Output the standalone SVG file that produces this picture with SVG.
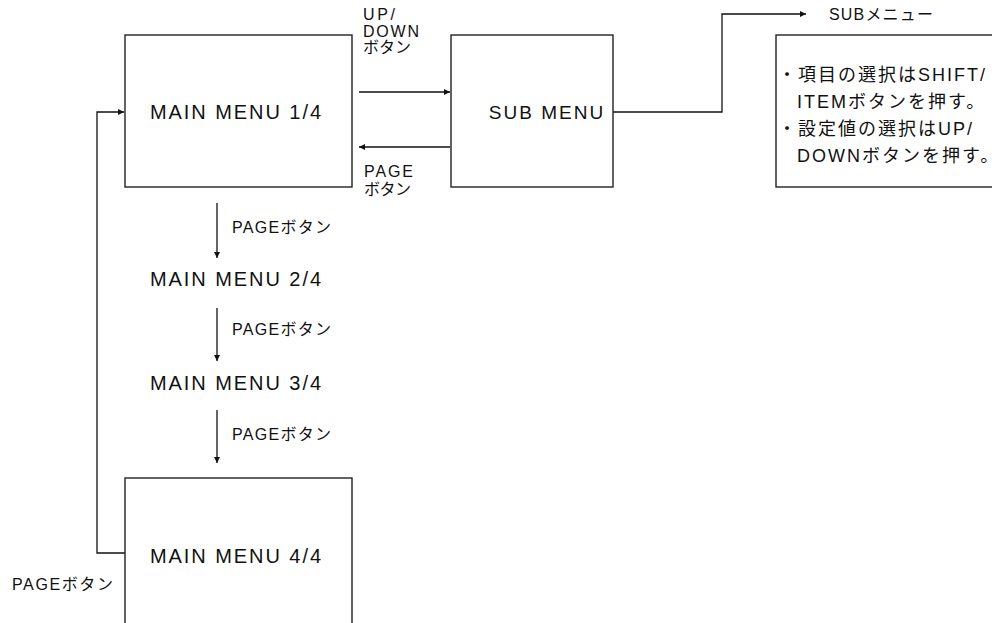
<svg xmlns="http://www.w3.org/2000/svg" width="992" height="623" viewBox="0 0 992 623">
<style>
.box{fill:#fff;stroke:#222;stroke-width:1.4}
.ln{fill:none;stroke:#111;stroke-width:1.3}
text{font-family:"Liberation Sans","Noto Sans CJK JP",sans-serif;fill:#111}
.big{font-size:20px;letter-spacing:2px}
.sm{font-size:16px;letter-spacing:2px}
.note{font-size:18px;letter-spacing:2px}
</style>
<defs>
<marker id="ah" viewBox="0 0 10 10" refX="10" refY="5" markerWidth="9" markerHeight="6" markerUnits="userSpaceOnUse" orient="auto">
<path d="M0,0 L10,5 L0,10 z" fill="#111"/>
</marker>
</defs>
<rect width="992" height="623" fill="#fff"/>
<g id="connectors">
<line class="ln" x1="359" y1="92" x2="450" y2="92" marker-end="url(#ah)"/>
<line class="ln" x1="450" y1="147" x2="359" y2="147" marker-end="url(#ah)"/>
<path class="ln" d="M613,112 H722 V14 H806" marker-end="url(#ah)"/>
<line class="ln" x1="217" y1="203" x2="217" y2="258" marker-end="url(#ah)"/>
<line class="ln" x1="217" y1="308" x2="217" y2="361" marker-end="url(#ah)"/>
<line class="ln" x1="217" y1="410" x2="217" y2="463" marker-end="url(#ah)"/>
<path class="ln" d="M125,553 H97 V112 H124" marker-end="url(#ah)"/>
<text class="sm" x="363" y="20" textLength="34">UP/</text>
<text class="sm" x="363" y="36.5" textLength="58">DOWN</text>
<text class="sm" x="363" y="53" textLength="50">ボタン</text>
<text class="sm" x="364" y="177" textLength="51">PAGE</text>
<text class="sm" x="364" y="195" textLength="49">ボタン</text>
<text class="sm" x="232" y="233" textLength="101">PAGEボタン</text>
<text class="sm" x="232" y="335" textLength="101">PAGEボタン</text>
<text class="sm" x="232" y="440" textLength="101">PAGEボタン</text>
<text class="sm" x="12" y="590" textLength="103">PAGEボタン</text>
<text class="sm" x="829" y="19.5" textLength="106">SUBメニュー</text>
</g>
<g id="main1">
<rect class="box" x="125" y="35" width="227" height="152"/>
<text class="big" x="150" y="119" textLength="173">MAIN MENU 1/4</text>
</g>
<g id="submenu">
<rect class="box" x="451" y="35" width="162" height="152"/>
<text class="big" x="547" y="119" text-anchor="middle" style="font-size:19px">SUB MENU</text>
</g>
<g id="main2">
<text class="big" x="150" y="286" textLength="173">MAIN MENU 2/4</text>
</g>
<g id="main3">
<text class="big" x="150" y="390" textLength="173">MAIN MENU 3/4</text>
</g>
<g id="main4">
<rect class="box" x="125" y="478" width="227" height="160"/>
<text class="big" x="150" y="563" textLength="173">MAIN MENU 4/4</text>
</g>
<g id="subnote">
<rect class="box" x="776" y="35" width="230" height="152"/>
<text class="note" x="778" y="80.5">・項目の選択はSHIFT/</text>
<text class="note" x="797" y="107.5">ITEMボタンを押す。</text>
<text class="note" x="778" y="134.5">・設定値の選択はUP/</text>
<text class="note" x="797" y="161.5">DOWNボタンを押す。</text>
</g>
</svg>
